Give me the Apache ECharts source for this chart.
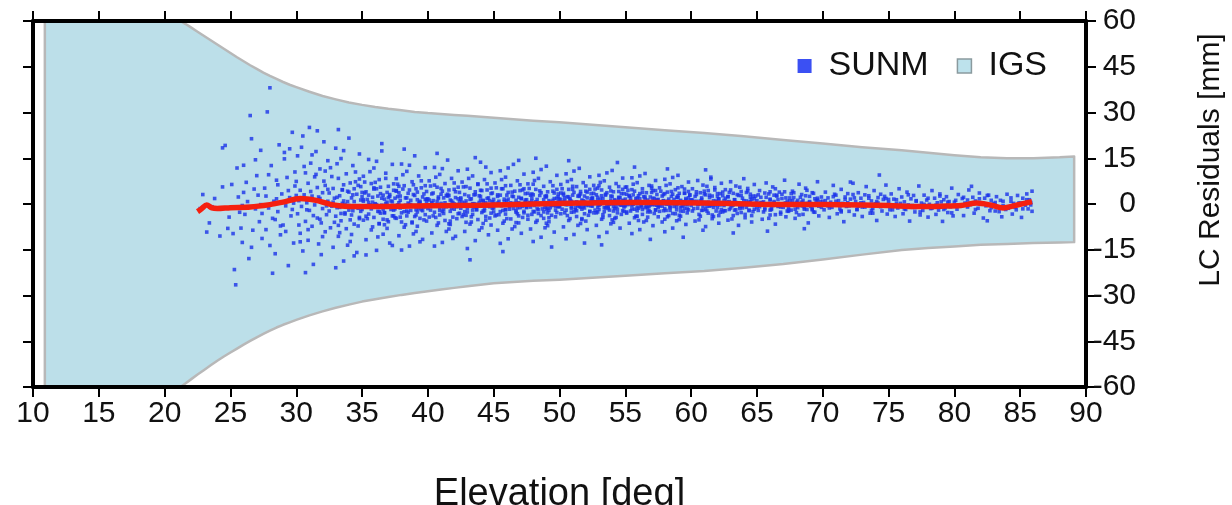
<!DOCTYPE html>
<html><head><meta charset="utf-8">
<script src="https://cdn.jsdelivr.net/npm/echarts@6/dist/echarts.min.js"></script>
<style>html,body{margin:0;padding:0;background:#fff}#c{width:1232px;height:505px}</style>
</head><body><div id="c"></div>
<script>
// Axis settings
const xMin = 10, xMax = 90, xStep = 5;
const yMin = -60, yMax = 60, yStep = 15;

// IGS envelope (elevation, upper bound, lower bound) in mm
const bandX  = [10.9, 21.2, 21.6, 22.0, 22.5, 23.0, 23.5, 24.0, 24.5, 25.0, 25.5, 26.0, 26.5, 27.0, 27.5, 28.0, 28.5, 29.0, 29.5, 30.0, 31.0, 32.0, 33.0, 34.0, 35.0, 36.0, 37.0, 38.0, 39.0, 40.0, 41.0, 42.0, 43.0, 44.0, 45.0, 46.5, 48.0, 50.0, 52.5, 55.0, 58.0, 61.0, 64.0, 67.0, 70.0, 73.0, 76.0, 78.0, 80.0, 82.0, 84.0, 86.0, 88.0, 89.1];
const bandUp = [60, 60, 59.0, 57.9, 56.5, 55.1, 53.7, 52.3, 50.9, 49.5, 48.1, 46.8, 45.5, 44.3, 43.1, 42.0, 41.0, 40.0, 39.1, 38.3, 36.8, 35.4, 34.3, 33.3, 32.5, 31.8, 31.2, 30.7, 30.2, 29.8, 29.5, 29.2, 28.9, 28.6, 28.3, 27.8, 27.3, 26.8, 26.0, 25.2, 24.2, 23.3, 22.2, 21.0, 19.8, 18.6, 17.6, 16.8, 16.0, 15.3, 15.0, 15.0, 15.3, 15.6];
const bandLo = [-60, -60, -58.8, -57.5, -55.9, -54.4, -52.9, -51.4, -50.0, -48.7, -47.4, -46.1, -44.9, -43.7, -42.6, -41.5, -40.5, -39.6, -38.8, -38.0, -36.5, -35.2, -34.0, -33.0, -32.0, -31.2, -30.5, -29.8, -29.2, -28.6, -28.0, -27.5, -27.0, -26.5, -26.0, -25.6, -25.2, -24.8, -24.2, -23.5, -22.7, -22.0, -20.9, -19.7, -18.2, -16.6, -15.1, -14.4, -13.9, -13.4, -13.1, -12.8, -12.6, -12.5];

// Mean residual (red line)
const meanX = [22.5, 22.8, 23.2, 23.6, 24.0, 25.0, 26.5, 28.0, 29.0, 30.3, 31.5, 32.8, 34.0, 36.5, 40.0, 44.0, 48.0, 51.6, 55.0, 59.0, 63.0, 66.5, 70.0, 73.0, 75.0, 77.2, 79.0, 80.5, 81.7, 82.7, 83.7, 84.7, 85.9];
const meanY = [-2.5, -1.6, -0.3, -1.3, -1.5, -1.2, -1.0, -0.2, 0.6, 1.8, 1.2, -0.3, -0.8, -0.8, -0.6, -0.4, 0.0, 0.3, 0.5, 0.4, 0.2, -0.2, -0.2, -0.3, -0.5, -0.8, -0.7, -0.5, 0.3, -0.3, -1.3, -0.4, 0.8];

// SUNM residuals: flat list of elevation, residual pairs (full scatter)
const sunmXY = [
22.9,3.1,23.4,-6.2,23.8,1.8,24.2,-10.5,24.6,19.2,24.9,-4.3,23.6,-0.9,24.4,5.6,22.7,-1.5,24.8,-8.0,23.2,-9.2,24.4,18.4,
25.1,6.4,25.3,-21.5,25.4,-26.5,25.6,2.3,25.8,-7.9,26.0,12.7,26.1,-3.4,26.3,0.8,26.5,29.0,26.6,-14.2,26.8,4.9,26.9,-1.6,27.0,9.3,27.2,-5.8,27.3,17.6,27.4,-11.3,25.9,-0.5,26.2,7.1,26.7,-8.6,27.1,2.9,25.5,11.8,25.7,-2.7,26.4,-17.9,27.3,-0.2,26.9,14.5,25.2,-9.7,26.0,3.8,27.4,-3.1,26.6,21.4,25.9,-12.6,
27.6,5.2,27.7,-8.4,27.8,30.2,27.9,-1.3,28.0,38.1,28.1,12.6,28.2,-4.7,28.3,0.9,28.4,-16.3,28.5,7.8,28.6,-2.5,28.7,19.4,28.8,-10.1,28.9,3.3,29.0,-6.9,29.1,14.8,29.2,-0.6,29.3,8.7,29.4,-20.2,29.5,2.1,29.6,-3.9,29.7,23.5,29.8,-12.8,29.9,5.9,27.6,-0.4,27.9,9.6,28.2,-22.7,28.5,1.7,28.8,-7.2,29.1,16.9,29.4,4.4,29.7,-1.8,29.9,10.5,28.0,-13.6,28.6,6.3,29.2,-9.0,29.5,18.1,27.7,2.6,28.4,-5.1,29.8,0.3,
30.0,7.4,30.1,-3.2,30.1,15.8,30.2,1.1,30.3,-9.6,30.3,4.5,30.4,-0.8,30.5,22.3,30.5,-15.4,30.6,3.0,30.7,10.2,30.7,-5.7,30.8,0.4,30.9,-11.9,30.9,6.8,31.0,25.1,31.0,-2.1,31.1,13.4,31.2,-7.3,31.2,2.6,31.3,-19.8,31.4,8.9,31.4,-0.3,31.5,17.2,31.6,-4.6,31.6,5.4,31.7,-13.1,31.8,1.8,31.8,11.5,31.9,-6.2,32.0,3.7,32.0,-1.5,32.1,20.4,32.2,-9.1,32.2,6.1,32.3,-3.5,32.4,14.2,32.4,0.9,30.2,-6.9,30.6,12.3,30.8,-1.9,31.1,4.1,31.3,-3.8,31.5,9.7,31.7,2.3,31.9,-16.6,32.1,7.5,32.3,-0.6,30.4,18.6,30.9,-8.4,31.6,24.0,32.0,-10.7,30.0,2.8,31.2,16.1,31.8,-5.0,32.4,4.8,30.7,-22.5,31.4,1.4,32.2,10.8,30.3,-12.4,
32.5,3.6,32.6,-7.8,32.6,11.9,32.7,-0.7,32.8,5.1,32.8,-14.2,32.9,1.9,33.0,-4.0,33.0,18.3,33.1,-1.2,33.2,8.4,33.2,-10.6,33.3,2.7,33.4,-5.5,33.4,14.9,33.5,0.2,33.6,-18.7,33.6,6.3,33.7,-2.9,33.8,9.9,33.8,-8.1,33.9,4.2,34.0,-0.5,34.0,21.6,34.1,-12.3,34.2,2.0,34.2,-3.6,34.3,12.6,34.4,-6.6,34.4,0.8,34.5,7.3,34.6,-15.9,34.6,3.2,34.7,-1.4,34.8,16.4,34.8,-4.8,34.9,5.7,32.5,-2.3,32.7,9.0,32.9,-6.0,33.1,13.2,33.3,-9.4,33.5,4.7,33.7,-0.1,33.9,-13.5,34.1,6.9,34.3,-2.2,34.5,10.5,34.7,-7.2,34.9,1.3,33.0,-20.9,33.6,17.5,34.2,-10.0,34.8,8.2,32.8,0.6,33.4,-3.1,34.0,3.9,34.6,-0.9,33.2,24.4,34.4,-17.0,
35.0,2.4,35.1,-5.3,35.1,9.1,35.2,-0.6,35.3,4.0,35.3,-11.7,35.4,1.5,35.5,-3.3,35.5,14.6,35.6,-1.0,35.7,6.7,35.7,-8.5,35.8,2.2,35.9,-4.4,35.9,11.8,36.0,0.1,36.1,-15.2,36.1,5.0,36.2,-2.4,36.3,8.0,36.3,-6.5,36.4,3.4,36.5,-0.4,36.5,17.4,36.6,-9.9,36.7,1.6,36.7,-2.9,36.8,10.1,36.9,-5.2,36.9,0.6,37.0,5.8,37.1,-12.8,37.1,2.5,37.2,-1.1,37.3,13.0,37.3,-3.9,37.4,4.5,35.0,-1.8,35.2,7.2,35.4,-4.8,35.6,10.6,35.8,-7.5,35.0,3.8,36.0,-0.2,36.2,-10.8,36.4,5.5,36.6,-1.7,36.8,8.4,37.0,-5.8,37.2,1.0,35.3,-16.7,36.1,14.0,36.9,-8.0,37.4,6.6,35.5,0.5,36.3,-2.5,37.1,3.1,35.7,-0.7,36.5,19.8,37.3,-13.6,35.9,4.9,36.7,-6.8,35.1,0.9,36.6,2.9,37.4,-2.0,
37.5,1.9,37.6,-4.7,37.6,8.3,37.7,-0.3,37.8,3.7,37.8,-10.4,37.9,1.2,38.0,-2.9,38.0,13.1,38.1,-0.8,38.2,6.0,38.2,-7.6,38.3,2.0,38.4,-3.9,38.4,10.7,38.5,0.3,38.6,-13.8,38.6,4.6,38.7,-2.1,38.8,7.3,38.8,-5.9,38.9,3.1,39.0,-0.5,39.0,15.8,39.1,-9.0,39.2,1.4,39.2,-2.6,39.3,9.2,39.4,-4.7,39.4,0.5,39.5,5.3,39.6,-11.6,39.6,2.3,39.7,-1.0,39.8,11.9,39.8,-3.5,39.9,4.1,37.5,-1.6,37.7,6.5,37.9,-4.3,38.1,9.6,38.3,-6.8,38.5,3.5,38.7,-0.2,38.9,-9.8,39.1,5.0,39.3,-1.5,39.5,7.6,39.7,-5.2,39.9,0.9,38.0,-15.1,38.6,12.7,39.2,-7.3,39.8,6.0,37.8,0.4,38.4,-2.3,39.0,2.8,39.6,-0.6,38.2,18.0,39.4,-12.4,37.6,4.4,38.8,-6.2,39.9,1.6,37.9,2.6,39.1,-1.9,
40.0,1.7,40.1,-4.3,40.1,7.6,40.2,-0.2,40.3,3.3,40.3,-9.5,40.4,1.1,40.5,-2.7,40.5,12.0,40.6,-0.7,40.7,5.5,40.7,-7.0,40.8,1.8,40.9,-3.6,40.9,9.7,41.0,0.2,41.1,-12.6,41.1,4.2,41.2,-1.9,41.3,6.7,41.3,-5.4,41.4,2.8,41.5,-0.4,41.5,14.4,41.6,-8.2,41.7,1.3,41.7,-2.4,41.8,8.4,41.9,-4.3,41.9,0.5,42.0,4.8,42.1,-10.6,42.1,2.1,42.2,-0.9,42.3,10.9,42.3,-3.2,42.4,3.8,40.0,-1.5,40.2,5.9,40.4,-3.9,40.6,8.8,40.8,-6.2,41.0,3.2,41.2,-0.2,41.4,-9.0,41.6,4.6,41.8,-1.4,42.0,6.9,42.2,-4.8,42.4,0.8,40.5,-13.8,41.1,11.6,41.7,-6.7,42.3,5.5,40.3,0.4,40.9,-2.1,41.5,2.6,42.1,-0.5,40.7,16.6,41.9,-11.3,
42.5,1.6,42.6,-4.1,42.6,7.2,42.7,-0.3,42.8,3.1,42.8,-9.0,42.9,1.0,43.0,-2.6,43.0,11.4,43.1,-0.6,43.2,5.2,43.2,-6.6,43.3,1.7,43.4,-3.4,43.4,9.2,43.5,0.1,43.6,-12.0,43.6,4.0,43.7,-1.8,43.8,6.4,43.8,-5.1,43.9,2.7,44.0,-0.4,44.0,13.7,44.1,-7.8,44.2,1.2,44.2,-2.3,44.3,8.0,44.4,-4.1,44.4,0.4,44.5,4.6,44.6,-10.1,44.6,2.0,44.7,-0.9,44.8,10.3,44.8,-3.0,44.9,3.6,42.5,-1.4,42.7,5.6,42.9,-3.7,43.1,8.4,43.3,-5.9,43.5,3.0,43.7,-0.1,43.9,-8.6,44.1,4.4,44.3,-1.3,44.5,6.6,44.7,-4.6,44.9,0.7,43.0,-14.6,43.6,15.2,44.2,-6.4,44.8,5.2,42.8,0.3,43.4,-2.0,44.0,2.5,44.6,-0.5,43.2,-18.3,44.4,12.1,
45.0,1.5,45.1,-3.9,45.1,6.9,45.2,-0.2,45.3,3.0,45.3,-8.6,45.4,0.9,45.5,-2.5,45.5,10.9,45.6,-0.6,45.7,5.0,45.7,-6.3,45.8,1.6,45.9,-3.3,45.9,8.8,46.0,0.2,46.1,-11.4,46.1,3.8,46.2,-1.7,46.3,6.1,46.3,-4.9,46.4,2.6,46.5,-0.3,46.5,13.0,46.6,-7.4,46.7,1.2,46.7,-2.2,46.8,7.6,46.9,-3.9,46.9,0.4,47.0,4.4,47.1,-9.6,47.1,1.9,47.2,-0.8,47.3,9.8,47.3,-2.9,47.4,3.4,45.0,-1.3,45.2,5.3,45.4,-3.5,45.6,8.0,45.8,-5.6,46.0,2.9,46.2,-0.1,46.4,-8.2,46.6,4.2,46.8,-1.2,47.0,6.3,47.2,-4.4,47.4,0.7,45.5,-12.9,46.1,11.8,46.7,-6.1,47.3,5.0,45.3,0.3,45.9,-1.9,46.5,2.4,47.1,-0.4,45.7,-15.6,46.9,14.3,
47.5,1.4,47.6,-3.7,47.6,6.6,47.7,-0.2,47.8,2.9,47.8,-8.2,47.9,0.9,48.0,-2.4,48.0,10.4,48.1,-0.5,48.2,4.8,48.2,-6.0,48.3,1.5,48.4,-3.1,48.4,8.4,48.5,0.2,48.6,-10.9,48.6,3.7,48.7,-1.6,48.8,5.8,48.8,-4.7,48.9,2.5,49.0,-0.3,49.0,12.4,49.1,-7.1,49.2,1.1,49.2,-2.1,49.3,7.3,49.4,-3.7,49.4,0.4,49.5,4.2,49.6,-9.2,49.6,1.8,49.7,-0.8,49.8,9.4,49.8,-2.8,49.9,3.3,47.5,-1.2,47.7,5.1,47.9,-3.4,48.1,7.7,48.3,-5.4,48.5,2.8,48.7,-0.1,48.9,-7.8,49.1,4.0,49.3,-1.2,49.5,6.0,49.7,-4.2,49.9,0.7,48.0,-12.3,48.6,11.3,49.2,-5.8,49.8,4.8,47.8,0.3,48.4,-1.8,49.0,2.3,49.6,-0.4,48.2,15.0,49.4,-14.1,47.6,3.5,48.8,-2.6,49.9,-0.9,47.9,1.9,49.1,-1.4,
50.0,1.6,50.1,-3.2,50.1,6.4,50.2,0.1,50.3,3.0,50.3,-7.5,50.4,1.1,50.5,-2.0,50.5,9.9,50.6,-0.2,50.7,4.8,50.7,-5.4,50.8,1.7,50.9,-2.7,50.9,8.0,51.0,0.5,51.1,-10.0,51.1,3.8,51.2,-1.2,51.3,5.7,51.3,-4.1,51.4,2.6,51.5,0.0,51.5,11.7,51.6,-6.4,51.7,1.3,51.7,-1.7,51.8,7.0,51.9,-3.2,51.9,0.7,52.0,4.2,52.1,-8.4,52.1,2.0,52.2,-0.5,52.3,8.9,52.3,-2.4,52.4,3.4,50.0,-0.9,50.2,5.0,50.4,-2.9,50.6,7.4,50.8,-4.8,51.0,2.9,51.2,0.2,51.4,-7.0,51.6,4.1,51.8,-0.9,52.0,5.9,52.2,-3.7,52.4,1.0,50.5,-11.4,51.1,10.8,51.7,-5.1,52.3,4.8,50.3,0.6,50.9,-1.4,51.5,2.5,52.1,-0.1,50.7,14.2,51.9,-12.8,50.1,3.6,51.3,-2.2,52.4,-0.6,50.4,2.1,51.6,-1.0,
52.5,1.7,52.6,-2.9,52.6,6.1,52.7,0.2,52.8,3.0,52.8,-7.0,52.9,1.2,53.0,-1.8,53.0,9.4,53.1,-0.1,53.2,4.6,53.2,-5.0,53.3,1.8,53.4,-2.5,53.4,7.6,53.5,0.6,53.6,-9.3,53.6,3.7,53.7,-1.0,53.8,5.5,53.8,-3.8,53.9,2.6,54.0,0.1,54.0,11.0,54.1,-6.0,54.2,1.4,54.2,-1.5,54.3,6.7,54.4,-2.9,54.4,0.8,54.5,4.1,54.6,-7.9,54.6,2.1,54.7,-0.4,54.8,8.5,54.8,-2.2,54.9,3.4,52.5,-0.7,52.7,4.9,52.9,-2.6,53.1,7.1,53.3,-4.4,53.5,2.9,53.7,0.3,53.9,-6.5,54.1,4.0,54.3,-0.8,54.5,5.7,54.7,-3.4,54.9,1.1,53.0,-10.7,53.6,10.2,54.2,-4.7,54.8,4.8,52.8,0.7,53.4,-1.2,54.0,2.5,54.6,0.0,53.2,-13.4,54.4,13.6,52.6,3.5,53.8,-2.0,54.9,-0.5,52.9,2.2,54.1,-0.9,
55.0,1.6,55.1,-2.6,55.1,5.6,55.2,0.2,55.3,2.8,55.3,-6.3,55.4,1.1,55.5,-1.6,55.5,8.6,55.6,-0.1,55.7,4.2,55.7,-4.5,55.8,1.7,55.9,-2.2,55.9,7.0,56.0,0.6,56.1,-8.4,56.1,3.4,56.2,-0.9,56.3,5.0,56.3,-3.4,56.4,2.4,56.5,0.1,56.5,10.0,56.6,-5.4,56.7,1.3,56.7,-1.3,56.8,6.1,56.9,-2.6,56.9,0.8,57.0,3.8,57.1,-7.1,57.1,1.9,57.2,-0.3,57.3,7.7,57.3,-2.0,57.4,3.1,55.0,-0.6,55.2,4.5,55.4,-2.3,55.6,6.5,55.8,-4.0,56.0,2.7,56.2,0.3,56.4,-5.9,56.6,3.7,56.8,-0.7,57.0,5.2,57.2,-3.1,57.4,1.0,55.5,-9.7,56.1,9.2,56.7,-4.3,57.3,4.4,55.3,0.7,55.9,-1.0,56.5,2.3,57.1,0.0,55.7,12.1,56.9,-11.6,55.1,3.2,56.3,-1.8,57.4,-0.4,55.4,2.0,56.6,-0.8,
57.5,1.5,57.6,-2.4,57.6,5.3,57.7,0.2,57.8,2.6,57.8,-5.9,57.9,1.0,58.0,-1.5,58.0,8.1,58.1,-0.1,58.2,3.9,58.2,-4.2,58.3,1.6,58.4,-2.1,58.4,6.6,58.5,0.5,58.6,-7.9,58.6,3.2,58.7,-0.8,58.8,4.7,58.8,-3.2,58.9,2.2,59.0,0.1,59.0,9.4,59.1,-5.1,59.2,1.2,59.2,-1.2,59.3,5.7,59.4,-2.4,59.4,0.7,59.5,3.6,59.6,-6.7,59.6,1.8,59.7,-0.3,59.8,7.2,59.8,-1.9,59.9,2.9,57.5,-0.6,57.7,4.2,57.9,-2.2,58.1,6.1,58.3,-3.8,58.5,2.5,58.7,0.3,58.9,-5.5,59.1,3.5,59.3,-0.7,59.5,4.9,59.7,-2.9,59.9,0.9,58.0,-9.1,58.6,8.7,59.2,-4.0,59.8,4.1,57.8,0.6,58.4,-0.9,59.0,2.1,59.6,0.0,58.2,11.5,59.4,-10.9,
60.0,1.4,60.1,-2.3,60.1,5.0,60.2,0.2,60.3,2.5,60.3,-5.6,60.4,0.9,60.5,-1.4,60.5,7.7,60.6,-0.1,60.7,3.7,60.7,-4.0,60.8,1.5,60.9,-2.0,60.9,6.2,61.0,0.5,61.1,-7.4,61.1,3.0,61.2,-0.8,61.3,4.4,61.3,-3.0,61.4,2.1,61.5,0.1,61.5,8.8,61.6,-4.8,61.7,1.1,61.7,-1.1,61.8,5.4,61.9,-2.3,61.9,0.7,62.0,3.4,62.1,-6.3,62.1,1.7,62.2,-0.3,62.3,6.8,62.3,-1.8,62.4,2.7,60.0,-0.5,60.4,4.0,60.8,-2.1,61.2,5.8,61.6,-3.6,62.0,2.4,62.4,0.3,60.6,-5.2,61.0,3.3,61.4,-0.7,61.8,4.6,62.2,-2.7,60.2,0.8,60.9,-8.6,61.5,8.2,62.1,-3.8,62.4,3.9,61.1,11.2,
62.5,1.2,62.6,-2.2,62.6,4.7,62.7,0.1,62.8,2.4,62.8,-5.3,62.9,0.8,63.0,-1.3,63.0,7.3,63.1,-0.2,63.2,3.5,63.2,-3.8,63.3,1.4,63.4,-1.9,63.4,5.9,63.5,0.4,63.6,-7.0,63.6,2.8,63.7,-0.8,63.8,4.1,63.8,-2.8,63.9,1.9,64.0,0.0,64.0,8.3,64.1,-4.5,64.2,1.0,64.2,-1.1,64.3,5.1,64.4,-2.2,64.4,0.6,64.5,3.2,64.6,-5.9,64.6,1.6,64.7,-0.3,64.8,6.4,64.8,-1.7,64.9,2.6,62.5,-0.5,62.9,3.8,63.3,-2.0,63.7,5.5,64.1,-3.4,64.5,2.2,64.9,0.2,63.1,-4.9,63.5,3.1,63.9,-0.6,64.3,4.3,64.7,-2.5,63.2,-9.5,
65.0,1.1,65.1,-2.1,65.2,4.4,65.3,0.0,65.3,2.2,65.4,-5.0,65.5,0.7,65.6,-1.3,65.7,6.9,65.8,-0.3,65.9,3.3,66.0,-3.6,66.0,1.3,66.1,-1.8,66.2,5.6,66.3,0.3,66.4,-6.6,66.5,2.6,66.6,-0.8,66.7,3.9,66.8,-2.7,66.9,1.8,67.0,-0.1,67.1,7.8,67.2,-4.2,67.3,0.9,67.4,-1.1,65.2,-0.4,65.6,3.6,66.0,-2.0,66.4,5.0,66.8,-3.3,67.2,2.0,65.4,0.3,65.9,-4.7,66.3,2.9,66.7,-0.6,67.1,4.0,67.4,-2.4,65.8,-8.9,
67.5,1.0,67.6,-2.0,67.7,4.2,67.8,-0.1,67.8,2.1,67.9,-4.7,68.0,0.6,68.1,-1.2,68.2,6.5,68.3,-0.3,68.4,3.1,68.5,-3.4,68.5,1.2,68.6,-1.7,68.7,5.2,68.8,0.2,68.9,-6.2,69.0,2.5,69.1,-0.8,69.2,3.7,69.3,-2.6,69.4,1.7,69.5,-0.2,69.6,7.3,69.7,-3.9,69.8,0.8,69.9,-1.1,67.6,3.4,68.0,-2.8,68.4,-0.5,68.8,4.5,69.2,-1.6,69.6,1.9,68.6,-8.1,69.0,0.5,
70.0,0.9,70.1,-1.9,70.2,3.9,70.3,-0.1,70.4,2.0,70.5,-4.4,70.6,0.6,70.7,-1.1,70.8,6.1,70.9,-0.3,71.0,2.9,71.1,-3.2,71.2,1.1,71.3,-1.6,71.4,4.8,71.5,0.2,71.6,-5.8,71.7,2.3,71.8,-0.8,71.9,3.4,72.0,-2.4,72.1,1.6,72.2,-0.2,72.3,6.8,72.4,-3.6,70.4,-0.6,70.9,3.2,71.4,-2.2,71.9,0.4,72.4,2.0,72.1,7.2,
72.5,0.8,72.6,-1.8,72.7,3.7,72.8,-0.2,72.9,1.9,73.0,-4.1,73.1,0.5,73.2,-1.0,73.3,5.7,73.4,-0.4,73.5,2.7,73.6,-3.0,73.7,1.0,73.8,-1.5,73.9,4.4,74.0,0.1,74.1,-5.4,74.2,2.1,74.3,9.5,74.4,3.2,74.5,-2.3,74.6,1.5,74.7,-0.3,74.8,6.2,74.9,-3.3,72.7,-0.7,73.2,3.0,73.7,-2.1,74.2,0.3,74.8,1.8,
75.0,0.5,75.1,-1.9,75.2,3.3,75.3,-0.5,75.4,1.6,75.5,-4.1,75.6,0.2,75.7,-1.3,75.8,5.0,75.9,-0.7,76.0,2.3,76.1,-3.2,76.2,0.7,76.3,-1.8,76.4,3.9,76.5,-0.3,76.6,-5.6,76.7,1.7,76.8,-1.1,76.9,2.8,77.0,-2.6,77.1,1.1,77.2,-0.6,77.3,5.9,77.4,-3.6,
77.5,0.3,77.6,-2.1,77.7,2.9,77.8,-0.8,77.9,1.3,78.0,-4.3,78.1,-0.1,78.2,-1.5,78.3,4.4,78.4,-1.0,78.5,1.9,78.6,-3.4,78.7,0.4,78.8,-2.0,78.9,3.3,79.0,-0.6,79.1,-5.7,79.2,1.4,79.3,-1.3,79.4,2.4,79.5,-2.8,79.6,0.8,79.7,-0.9,79.8,5.2,79.9,-3.9,
80.0,0.6,80.2,-1.7,80.3,3.1,80.4,-0.4,80.6,1.8,80.7,-3.8,80.8,0.3,81.0,-1.0,81.1,4.6,81.2,-0.2,81.4,2.2,81.5,-3.0,81.6,1.0,81.8,-1.4,81.9,3.6,82.0,0.4,82.2,-4.6,82.3,1.9,82.4,-0.6,82.6,2.9,82.7,-2.2,82.8,1.2,82.9,-0.1,81.3,5.8,82.5,-5.5,
83.0,0.0,83.1,-2.3,83.2,2.4,83.4,-1.2,83.5,1.2,83.6,-4.2,83.7,-0.5,83.9,-1.8,84.0,3.2,84.1,-1.4,84.3,0.9,84.4,-3.3,84.5,0.2,84.7,-1.9,84.8,2.8,85.0,0.3,85.1,-4.4,85.2,1.9,85.4,-0.4,85.5,3.3,85.6,-1.6,85.7,1.4,85.8,0.5,85.9,4.2,85.9,-2.4
];

// SUNM residuals in the dense core of the cloud (elevation, residual pairs)
const sunmCoreXY = [
33.1,2.2,33.3,-1.1,33.5,4.6,33.7,-3.3,33.9,0.8,34.1,-5.2,34.3,3.0,34.5,-0.6,34.7,6.1,34.9,-2.4,35.1,1.4,35.3,-4.0,35.5,2.9,35.7,-1.6,35.9,5.3,36.1,-0.2,36.3,-6.4,36.5,1.9,36.7,-2.8,36.9,3.8,37.1,-0.9,37.3,0.7,37.5,-4.5,37.7,2.4,37.9,-1.3,38.1,4.9,38.3,-0.4,38.5,-2.7,38.7,1.2,38.9,6.3,39.1,-3.6,39.3,0.3,39.5,-1.9,39.7,3.3,39.9,-5.6,33.2,-7.0,33.6,1.0,34.0,-2.0,34.4,5.0,34.8,-4.4,35.2,3.6,35.6,-0.3,36.0,7.1,36.4,-3.0,36.8,0.2,37.2,-1.8,37.6,4.2,38.0,-5.9,38.4,2.0,38.8,-0.7,39.2,3.9,39.6,-2.2,35.0,-0.8,36.2,2.6,37.4,-3.9,38.6,-0.1,39.8,1.5,34.6,-1.0,35.8,0.6,37.0,2.1,38.2,-2.5,39.4,0.9,36.6,-5.0,37.8,5.8,39.0,-4.1,
40.1,1.3,40.2,-2.0,40.4,3.6,40.5,-0.5,40.6,-4.4,40.8,2.3,40.9,-1.2,41.0,5.1,41.2,-3.1,41.3,0.4,41.4,-0.9,41.6,2.8,41.7,-5.6,41.8,1.0,42.0,-1.7,42.1,4.0,42.2,-0.2,42.4,-3.0,42.5,2.0,42.6,0.6,42.8,-2.5,42.9,5.7,43.0,-0.7,43.2,1.5,43.3,-4.2,43.4,0.1,43.6,3.1,43.7,-1.9,43.8,-0.4,44.0,4.5,44.1,-2.8,44.2,0.9,44.4,-5.3,44.5,1.8,44.6,-0.6,44.8,3.4,44.9,-1.4,45.0,0.3,45.2,-3.6,45.3,2.5,45.4,-0.1,45.6,5.0,45.7,-2.1,45.8,0.8,46.0,-4.8,46.1,1.6,46.2,-0.8,46.4,3.9,46.5,-1.5,46.6,0.2,46.8,-3.2,46.9,2.2,47.0,-0.3,47.2,4.6,47.3,-2.4,47.4,1.3,47.6,-5.0,47.7,0.5,47.8,-1.0,48.0,3.0,48.1,-2.6,48.2,0.7,48.4,-0.2,48.5,4.3,48.6,-3.8,48.8,1.4,48.9,-1.1,49.0,2.7,49.2,-4.5,49.3,0.6,49.4,-0.5,49.6,3.6,49.7,-2.0,49.8,1.9,40.3,-0.1,40.7,0.9,41.1,-2.4,41.5,3.2,41.9,-0.6,42.3,1.7,42.7,-3.5,43.1,2.6,43.5,-1.0,43.9,0.5,44.3,-2.2,44.7,1.1,45.1,-0.4,45.5,2.9,45.9,-1.8,46.3,0.4,46.7,-2.7,47.1,1.7,47.5,-0.9,47.9,3.3,48.3,-1.6,48.7,0.0,49.1,-2.9,49.5,1.2,49.9,-0.7,40.5,6.2,41.6,-6.5,42.9,-6.0,43.8,6.6,44.8,-6.9,45.9,6.0,46.9,-6.2,48.0,6.5,49.0,-6.3,41.2,2.0,42.0,0.0,43.0,-1.4,44.0,1.3,45.0,-2.6,46.0,1.0,47.0,-1.2,48.0,0.2,49.0,-1.7,49.9,2.4,
50.1,1.5,50.2,-1.7,50.3,3.5,50.5,-0.2,50.6,-3.8,50.7,2.3,50.9,-0.9,51.0,4.8,51.1,-2.6,51.3,0.7,51.4,-0.6,51.5,2.9,51.7,-4.8,51.8,1.1,51.9,-1.3,52.1,3.9,52.2,0.1,52.3,-2.5,52.5,2.1,52.6,0.8,52.7,-2.0,52.9,5.2,53.0,-0.4,53.1,1.6,53.3,-3.5,53.4,0.3,53.5,3.2,53.7,-1.5,53.8,-0.1,53.9,4.3,54.1,-2.3,54.2,1.0,54.3,-4.4,54.5,1.9,54.6,-0.3,54.7,3.4,54.9,-1.0,55.0,0.5,55.1,-3.0,55.3,2.5,55.4,0.1,55.5,4.7,55.7,-1.7,55.8,0.9,55.9,-4.0,56.1,1.7,56.2,-0.5,56.3,3.8,56.5,-1.2,56.6,0.4,56.7,-2.6,56.9,2.3,57.0,-0.1,57.1,4.4,57.3,-1.9,57.4,1.4,57.5,-4.2,57.7,0.7,57.8,-0.7,57.9,3.1,58.1,-2.1,58.2,0.9,58.3,0.0,58.5,4.1,58.6,-3.1,58.7,1.5,58.9,-0.8,59.0,2.7,59.1,-3.7,59.3,0.8,59.4,-0.3,59.5,3.5,59.7,-1.6,59.8,2.0,59.9,0.2,50.4,0.3,50.8,1.2,51.2,-1.9,51.6,3.3,52.0,-0.3,52.4,1.8,52.8,-2.9,53.2,2.7,53.6,-0.7,54.0,0.6,54.4,-1.7,54.8,1.2,55.2,-0.2,55.6,3.0,56.0,-1.4,56.4,0.5,56.8,-2.1,57.2,1.8,57.6,-0.6,58.0,3.4,58.4,-1.2,58.8,0.2,59.2,-2.3,59.6,1.3,50.0,-0.5,51.0,5.8,52.0,-5.6,53.0,6.0,54.0,-5.2,55.0,5.5,56.0,-5.4,57.0,5.9,58.0,-5.0,59.0,5.3,50.6,2.4,51.5,-0.8,52.5,0.5,53.5,-1.3,54.5,2.2,55.5,-0.4,56.5,1.6,57.5,-1.1,58.5,0.8,59.5,-1.4,50.9,0.9,51.9,2.6,52.9,-1.0,53.9,1.3,54.9,-2.4,55.9,2.0,56.9,-0.3,57.9,1.1,58.9,-1.9,59.9,3.0,
60.1,1.3,60.2,-1.5,60.4,3.1,60.5,-0.2,60.6,-3.4,60.8,2.0,60.9,-0.8,61.0,4.2,61.2,-2.3,61.3,0.6,61.5,-0.5,61.6,2.6,61.7,-4.1,61.9,1.0,62.0,-1.2,62.2,3.4,62.3,0.1,62.5,-2.2,62.6,1.9,62.7,0.7,62.9,-1.8,63.0,4.6,63.2,-0.3,63.3,1.4,63.5,-3.1,63.6,0.3,63.8,2.8,63.9,-1.3,64.1,-0.1,64.2,3.8,64.4,-2.0,64.5,0.9,64.6,-3.8,64.8,1.7,64.9,-0.3,65.1,3.0,65.2,-0.9,65.4,0.4,65.5,-2.6,65.7,2.2,65.8,0.1,66.0,4.0,66.1,-1.5,66.3,0.8,66.4,-3.5,66.6,1.5,66.7,-0.4,66.9,3.2,67.0,-1.1,67.2,0.3,67.3,-2.3,67.5,2.0,67.6,-0.1,67.8,3.7,67.9,-1.7,68.1,1.2,68.2,-3.6,68.4,0.6,68.5,-0.6,68.7,2.7,68.8,-1.8,69.0,0.8,69.1,0.0,69.3,3.5,69.4,-2.7,69.6,1.3,69.7,-0.7,69.9,2.3,60.3,0.4,60.7,1.0,61.1,-1.7,61.4,2.9,61.8,-0.3,62.1,1.6,62.4,-2.6,62.8,2.4,63.1,-0.6,63.4,0.5,63.7,-1.5,64.0,1.1,64.3,-0.2,64.7,2.6,65.0,-1.2,65.3,0.5,65.6,-1.9,66.0,1.6,66.2,-0.5,66.5,2.9,66.8,-1.0,67.1,0.2,67.4,-2.0,67.7,1.1,68.0,-0.5,68.3,2.2,68.6,-1.2,68.9,0.1,69.2,-1.9,69.5,1.0,69.8,-0.4,
70.2,1.1,70.5,-1.3,70.8,2.4,71.1,-0.3,71.4,-2.6,71.7,1.5,72.0,-0.6,72.3,3.1,72.6,-1.8,72.9,0.4,73.2,-0.4,73.5,1.9,73.8,-3.0,74.1,0.8,74.4,-0.9,74.7,2.5,75.0,-0.2,75.3,-1.9,75.6,1.4,75.9,0.2,76.2,-1.6,76.5,3.0,76.8,-0.5,77.1,0.9,77.4,-2.6,77.7,-0.1,78.0,1.9,78.3,-1.4,78.6,-0.4,78.9,2.6,79.2,-1.8,79.5,0.6,79.8,-2.9,80.1,1.2,80.4,-0.7,80.7,2.2,81.0,-0.5,81.3,0.4,81.6,-1.8,81.9,1.7,82.2,0.3,82.5,2.8,82.8,-1.2,83.1,0.5,83.4,-2.5,83.7,0.9,84.0,-0.9,84.3,2.0,84.6,-1.1,84.9,0.3,85.2,-1.6,85.5,1.4,85.8,-0.3,71.0,0.9,73.0,-1.0,75.0,1.5,77.0,-1.2,79.0,0.7,81.0,1.3,83.0,-0.6
];

const sunmPts = [];
for (let i = 0; i < sunmXY.length; i += 2) sunmPts.push([sunmXY[i], sunmXY[i + 1]]);
for (let i = 0; i < sunmCoreXY.length; i += 2) sunmPts.push([sunmCoreXY[i], sunmCoreXY[i + 1]]);
const bandData = bandX.map((x, i) => [x, bandUp[i], bandLo[i]]);
const meanData = meanX.map((x, i) => [x, meanY[i]]);

const FONT = 'Liberation Sans, Arial, Helvetica, sans-serif';
const chart = echarts.init(document.getElementById('c'), null, { renderer: 'canvas' });

const axisLineStyle = { show: true, onZero: false, lineStyle: { color: '#000', width: 4 } };
const tickStyle = { show: true, inside: false, length: 10, lineStyle: { color: '#000', width: 2 } };

chart.setOption({
  animation: false,
  backgroundColor: '#fff',
  grid: { left: 33, right: 146, top: 21, bottom: 118, containLabel: false, outerBoundsMode: 'none' },
  legend: {
    right: 180, top: 44,
    itemWidth: 14, itemHeight: 14, itemGap: 28,
    textStyle: { fontFamily: FONT, fontSize: 34, color: '#111', padding: [0, 0, 0, 12] },
    data: [
      { name: 'SUNM', icon: 'rect', itemStyle: { color: '#0a24f0', borderColor: '#0a24f0', borderWidth: 0 } },
      { name: 'IGS', icon: 'rect', itemStyle: { color: '#bde2ec', borderColor: '#8a9a9e', borderWidth: 1.5 } }
    ]
  },
  xAxis: [
    {
      type: 'value', min: xMin, max: xMax, interval: xStep, position: 'bottom', z: 10,
      name: 'Elevation [deg]', nameLocation: 'middle', nameGap: 89,
      nameTextStyle: { fontFamily: FONT, fontSize: 38, color: '#111' },
      axisLine: axisLineStyle, axisTick: tickStyle, splitLine: { show: false },
      axisLabel: { fontFamily: FONT, fontSize: 30, color: '#111', margin: 12 }
    },
    {
      type: 'value', min: xMin, max: xMax, interval: xStep, position: 'top', z: 10,
      axisLine: axisLineStyle, axisTick: tickStyle, splitLine: { show: false },
      axisLabel: { show: false }
    }
  ],
  yAxis: [
    {
      type: 'value', min: yMin, max: yMax, interval: yStep, position: 'right', z: 10,
      name: 'LC Residuals [mm]', nameLocation: 'middle', nameGap: 110, nameRotate: 90,
      nameTextStyle: { fontFamily: FONT, fontSize: 30, color: '#111', padding: [0, 0, 0, 88] },
      axisLine: axisLineStyle, axisTick: tickStyle, splitLine: { show: false },
      axisLabel: { fontFamily: FONT, fontSize: 30, color: '#111', align: 'right', margin: 50 }
    },
    {
      type: 'value', min: yMin, max: yMax, interval: yStep, position: 'left', z: 10,
      axisLine: axisLineStyle, axisTick: tickStyle, splitLine: { show: false },
      axisLabel: { show: false }
    }
  ],
  series: [
    {
      name: 'IGS', type: 'custom', xAxisIndex: 0, yAxisIndex: 0, z: 1,
      itemStyle: { color: '#bde2ec' },
      data: bandData,
      renderItem: function (params, api) {
        if (params.dataIndex !== 0) return null;
        const pts = [];
        for (let i = 0; i < bandX.length; i++) pts.push(api.coord([bandX[i], bandUp[i]]));
        for (let i = bandX.length - 1; i >= 0; i--) pts.push(api.coord([bandX[i], bandLo[i]]));
        return { type: 'polygon', shape: { points: pts }, style: { fill: '#bcdfe9', stroke: '#b8b8b8', lineWidth: 2.5, lineJoin: 'round' } };
      }
    },
    {
      name: 'SUNM', type: 'scatter', xAxisIndex: 0, yAxisIndex: 0, z: 3,
      symbol: 'rect', symbolSize: 3.6,
      itemStyle: { color: '#1a32e8' },
      data: sunmPts
    },
    {
      name: 'mean', type: 'line', xAxisIndex: 0, yAxisIndex: 0, z: 4,
      showSymbol: false, smooth: 0.3,
      lineStyle: { color: '#f5200f', width: 5.5 },
      data: meanData
    }
  ]
});
</script>
</body></html>
